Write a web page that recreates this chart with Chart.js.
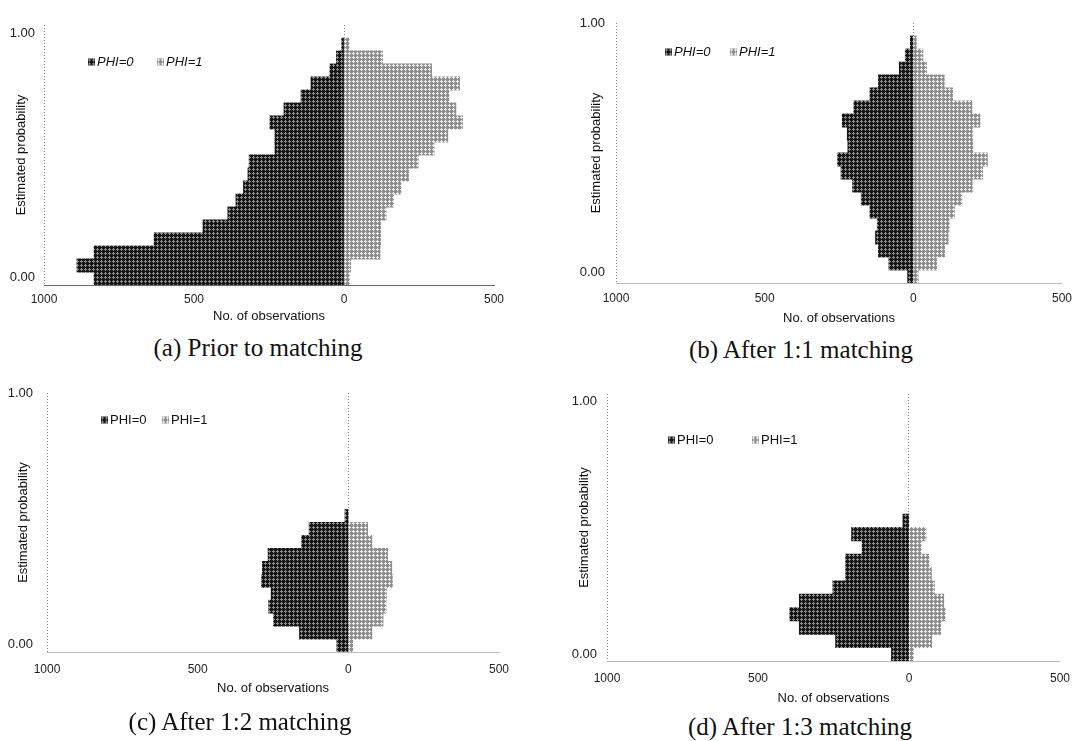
<!DOCTYPE html>
<html><head><meta charset="utf-8">
<script src="https://cdn.jsdelivr.net/npm/chart.js@4/dist/chart.umd.min.js"></script>
<style>
html,body{margin:0;padding:0;background:#fff;}
body{width:1080px;height:741px;position:relative;overflow:hidden;font-family:"Liberation Sans",Arial,sans-serif;}
canvas{position:absolute;}
.cap{position:absolute;font-family:"Liberation Serif","Times New Roman",serif;font-size:25px;color:#111;white-space:nowrap;transform:translate(-50%,-50%);}
.leg{position:absolute;font-size:13px;color:#111;white-space:nowrap;transform:translateY(-50%);line-height:14px;}
.sw{position:absolute;width:7px;height:7px;transform:translateY(-50%);}
</style></head><body>
<canvas id="pa" width="520" height="330" style="left:0;top:0"></canvas>
<canvas id="pb" width="520" height="330" style="left:560px;top:0"></canvas>
<canvas id="pc" width="520" height="340" style="left:0;top:370px"></canvas>
<canvas id="pd" width="520" height="340" style="left:560px;top:370px"></canvas>
<div id="overlay"></div>
<script>
// ---- data ----
const binCenters = [0.025,0.075,0.125,0.175,0.225,0.275,0.325,0.375,0.425,0.475,0.525,0.575,0.625,0.675,0.725,0.775,0.825,0.875,0.925];
const xTicks = [-1000,-500,0,500];
const yTicks = [0,1];
const groups = ['PHI=0','PHI=1'];
const captions = ['(a) Prior to matching','(b) After 1:1 matching','(c) After 1:2 matching','(d) After 1:3 matching'];

const priorPhi0 = [833,890,833,633,470,387,360,335,320,316,230,230,247,200,143,110,47,25,8];
const priorPhi1 = [18,22,120,122,122,140,165,190,215,247,300,346,395,373,350,385,292,128,17];
const m11Phi0 = [19,82,117,127,121,146,175,204,243,255,220,222,239,200,146,117,47,27,10];
const m11Phi1 = [16,78,105,117,121,138,163,198,233,249,200,198,224,197,132,104,44,32,10];
const m12Phi0 = [38,162,248,264,256,288,285,266,155,130,11];
const m12Phi1 = [15,78,115,125,126,146,144,130,78,64,0];
const m13Phi0 = [58,243,363,395,363,252,210,210,155,190,20];
const m13Phi1 = [15,75,105,120,115,84,74,66,40,56,0];

// ---- textures ----
function tile(bg, fg){
  const c=document.createElement('canvas'); c.width=4; c.height=4;
  const g=c.getContext('2d'); g.fillStyle=bg; g.fillRect(0,0,4,4);
  g.fillStyle=fg; g.fillRect(1,0,1,3); g.fillRect(0,1,3,1);
  return c;
}
const darkTile = tile('#161616','#8c8c8c');
const lightTile = tile('#8e8e8e','#ececec');
const patCtx = document.createElement('canvas').getContext('2d');
const darkPat = patCtx.createPattern(darkTile,'repeat');
const lightPat = patCtx.createPattern(lightTile,'repeat');

// ---- layout ----
// shiftTop/shiftBottom: nudge the end labels inward (two-line label trick), lh = label line height
const panels = [
  {id:'pa', p0:priorPhi0, p1:priorPhi1, yW:44, xH:45, padTop:15, padRight:26, xTickPad:7, xTitlePad:6, yTitlePad:14, yTickPad:9, axisColor:'#6a6a6a', italic:true,
   lh:16, shiftTop:true, shiftBottom:true, cap:[258,348], leg:{y:62, s0:88, t0:97, s1:157, t1:166}},
  {id:'pb', p0:m11Phi0, p1:m11Phi1, yW:56, xH:47, padTop:23, padRight:14, xTickPad:8, xTitlePad:4, yTitlePad:29, yTickPad:11, axisColor:'#bbb', italic:true,
   lh:22, shiftTop:false, shiftBottom:true, cap:[801,350], leg:{y:52, s0:665, t0:674, s1:730, t1:739}},
  {id:'pc', p0:m12Phi0, p1:m12Phi1, yW:47, xH:58, padTop:23, padRight:21, xTickPad:10, xTitlePad:14, yTitlePad:16, yTickPad:14, axisColor:'#bbb', italic:false,
   lh:16, shiftTop:false, shiftBottom:true, cap:[240,722], leg:{y:420, s0:101, t0:110, s1:162, t1:171}},
  {id:'pd', p0:m13Phi0, p1:m13Phi1, yW:47, xH:49, padTop:18, padRight:10, xTickPad:10, xTitlePad:4, yTitlePad:17, yTickPad:10, axisColor:'#bbb', italic:false,
   lh:14, shiftTop:true, shiftBottom:true, cap:[800,727], leg:{y:440, s0:668, t0:677, s1:752, t1:761}}
];

const FONT = '"Liberation Sans", Arial, sans-serif';

function makePanel(P){
  const ds = [
    {label:groups[0], data:P.p0.map((v,i)=>({x:-v, y:binCenters[i]})), backgroundColor:darkPat},
    {label:groups[1], data:P.p1.map((v,i)=>({x:v, y:binCenters[i]})), backgroundColor:lightPat}
  ].map(d=>Object.assign(d,{borderWidth:0, grouped:false, barPercentage:1, categoryPercentage:1, inflateAmount:0.4}));
  new Chart(document.getElementById(P.id), {
    type:'bar',
    data:{datasets:ds},
    options:{
      indexAxis:'y', responsive:false, animation:false, events:[],
      layout:{padding:{top:P.padTop, right:P.padRight, bottom:0, left:0}},
      plugins:{legend:{display:false}, tooltip:{enabled:false}},
      scales:{
        x:{type:'linear', min:-1000, max:500,
          afterBuildTicks:s=>{s.ticks = xTicks.map(v=>({value:v}));},
          ticks:{callback:v=>String(Math.abs(v)), font:{family:FONT,size:12}, color:'#222', padding:P.xTickPad, maxRotation:0, autoSkip:false},
          grid:{drawTicks:false, lineWidth:1, color:c=>(c.tick && (c.tick.value===0 || c.tick.value===-1000)) ? '#808080' : 'rgba(0,0,0,0)'},
          border:{display:true, color:P.axisColor, width:1, dash:[1,2]},
          title:{display:true, text:'No. of observations', font:{family:FONT,size:13}, color:'#111', padding:{top:0,bottom:P.xTitlePad}},
          afterFit:s=>{s.height=P.xH;}
        },
        y:{type:'linear', min:0, max:1, offset:false,
          afterBuildTicks:s=>{s.ticks = yTicks.map(v=>({value:v}));},
          ticks:{
            callback:v=>{
              const t=Number(v).toFixed(2);
              if (v===1 && P.shiftTop) return ['', t];
              if (v===0 && P.shiftBottom) return [t, ''];
              return t;
            },
            font:{family:FONT,size:13,lineHeight:P.lh+'px'}, color:'#222', padding:P.yTickPad, autoSkip:false},
          grid:{display:false, offset:false, drawTicks:false},
          border:{display:false},
          title:{display:true, text:'Estimated probability', font:{family:FONT,size:13}, color:'#111', padding:{top:P.yTitlePad,bottom:0}},
          afterFit:s=>{s.width=P.yW;}
        }
      }
    }
  });
}
panels.forEach(makePanel);

// ---- captions & legends (HTML text) ----
const ov = document.getElementById('overlay');
const darkURL = darkTile.toDataURL(), lightURL = lightTile.toDataURL();
panels.forEach((P,k)=>{
  const c=document.createElement('div'); c.className='cap'; c.textContent=captions[k];
  c.style.left=P.cap[0]+'px'; c.style.top=P.cap[1]+'px'; ov.appendChild(c);
  const L=P.leg;
  [[L.s0,L.t0,darkURL,groups[0]],[L.s1,L.t1,lightURL,groups[1]]].forEach(([sx,tx,url,txt])=>{
    const s=document.createElement('div'); s.className='sw';
    s.style.left=sx+'px'; s.style.top=L.y+'px'; s.style.backgroundImage='url('+url+')'; ov.appendChild(s);
    const t=document.createElement('div'); t.className='leg'; t.textContent=txt;
    t.style.left=tx+'px'; t.style.top=L.y+'px'; if(P.italic) t.style.fontStyle='italic'; ov.appendChild(t);
  });
});
</script>
</body></html>
